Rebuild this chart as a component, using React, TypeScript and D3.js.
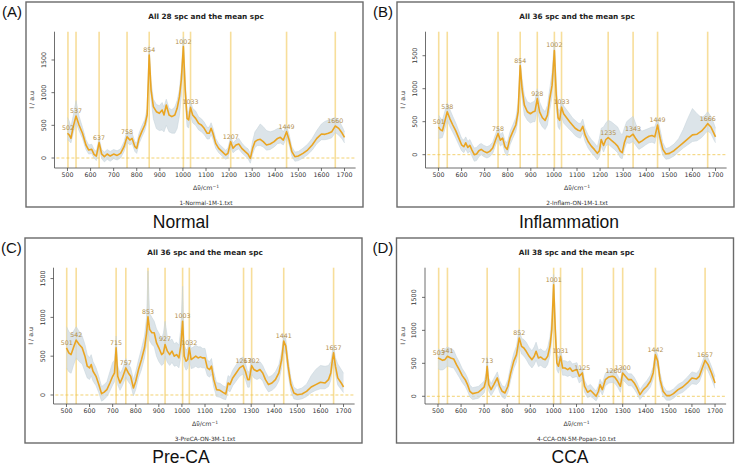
import * as d3 from "d3";

const W = 744;
const H = 466;

const X_DOMAIN = [452, 1748];
const X_TICKS = [500, 600, 700, 800, 900, 1000, 1100, 1200, 1300, 1400, 1500, 1600, 1700];
const Y_TICKS = [0, 500, 1000, 1500];

// (A) Normal, 28 spectra
const A_WN = [500, 508, 515, 525, 537, 550, 565, 580, 592, 605, 615, 625, 637, 648, 660, 672, 685, 700, 715, 730, 745, 758, 770, 780, 792, 800, 810, 822, 835, 845, 854, 862, 872, 885, 898, 910, 918, 928, 940, 952, 965, 975, 985, 993, 1002, 1010, 1018, 1025, 1033, 1042, 1055, 1068, 1080, 1092, 1105, 1114, 1122, 1130, 1142, 1155, 1170, 1185, 1195, 1207, 1217, 1230, 1242, 1255, 1270, 1282, 1292, 1302, 1312, 1322, 1335, 1348, 1362, 1378, 1395, 1410, 1422, 1435, 1449, 1460, 1472, 1485, 1500, 1520, 1540, 1560, 1580, 1600, 1615, 1630, 1645, 1660, 1675, 1690, 1700];
const A_MEAN = [378, 350, 300, 480, 643, 505, 378, 199, 122, 133, 56, 30, 235, 61, 20, 61, 30, 60, 40, 71, 173, 326, 275, 300, 173, 148, 300, 403, 505, 658, 1577, 1040, 785, 709, 684, 735, 658, 811, 658, 633, 658, 760, 939, 1194, 1704, 1041, 607, 582, 775, 658, 607, 530, 505, 454, 378, 378, 454, 378, 224, 148, 97, 46, 71, 250, 148, 199, 214, 148, 97, 61, -5, 148, 250, 275, 286, 250, 199, 214, 250, 300, 316, 275, 403, 275, 97, 20, 30, 71, 122, 199, 300, 367, 362, 378, 403, 490, 454, 378, 316];
const A_LO = [280, 260, 230, 380, 540, 420, 300, 130, 60, 70, 0, -40, 160, -10, -60, -20, -50, -10, -30, 0, 100, 240, 200, 220, 100, 70, 220, 320, 420, 560, 1420, 900, 600, 450, 420, 430, 400, 500, 400, 380, 380, 450, 650, 950, 1500, 850, 480, 460, 650, 540, 500, 430, 400, 360, 290, 290, 360, 290, 150, 80, 30, -20, 0, 170, 80, 120, 140, 80, 30, -10, -80, 60, 160, 190, 190, 170, 120, 130, 170, 220, 230, 200, 320, 200, 30, -50, -40, 0, 50, 120, 220, 280, 280, 290, 310, 390, 350, 290, 230];
const A_HI = [620, 560, 480, 650, 880, 640, 470, 280, 200, 210, 130, 100, 310, 130, 90, 130, 100, 130, 110, 140, 250, 420, 360, 380, 250, 230, 380, 490, 590, 760, 1720, 1180, 900, 820, 800, 850, 780, 900, 760, 740, 780, 880, 1050, 1350, 1850, 1200, 720, 700, 880, 760, 720, 630, 600, 550, 470, 470, 540, 460, 300, 220, 170, 120, 150, 330, 230, 280, 300, 230, 170, 140, 70, 260, 400, 450, 520, 480, 420, 400, 420, 450, 460, 400, 500, 360, 170, 90, 100, 150, 210, 300, 420, 520, 560, 580, 600, 620, 580, 480, 400];
const A_PEAKS = [502, 537, 637, 758, 854, 1002, 1033, 1207, 1449, 1660];

// (B) Inflammation, 36 spectra
const B_WN = [500, 508, 517, 527, 538, 550, 562, 575, 588, 600, 610, 618, 627, 636, 645, 655, 665, 675, 685, 697, 710, 722, 735, 748, 758, 768, 778, 788, 798, 810, 822, 835, 845, 854, 862, 872, 885, 898, 910, 918, 928, 938, 950, 962, 972, 982, 992, 1002, 1010, 1018, 1025, 1033, 1042, 1055, 1068, 1080, 1092, 1105, 1115, 1125, 1135, 1148, 1162, 1175, 1188, 1197, 1205, 1215, 1225, 1235, 1248, 1262, 1276, 1288, 1296, 1305, 1315, 1328, 1343, 1355, 1368, 1382, 1398, 1412, 1425, 1437, 1449, 1460, 1472, 1485, 1500, 1520, 1540, 1560, 1580, 1600, 1620, 1640, 1655, 1666, 1680, 1692, 1700];
const B_MEAN = [420, 380, 360, 500, 650, 540, 450, 360, 250, 150, 120, 180, 110, 140, 70, 0, 10, 60, 80, 50, 30, 50, 100, 230, 320, 220, 250, 120, 80, 250, 350, 450, 650, 1350, 1000, 750, 650, 620, 650, 660, 850, 650, 560, 520, 600, 850, 1050, 1580, 900, 560, 520, 720, 620, 560, 500, 450, 400, 370, 360, 430, 300, 200, 130, 80, 20, 60, 230, 140, 230, 260, 220, 180, 130, 50, 30, 180, 280, 270, 310, 240, 180, 210, 250, 280, 290, 270, 450, 250, 80, 10, 20, 60, 120, 180, 240, 300, 310, 360, 420, 470, 420, 330, 270];
const B_LO = [250, 250, 260, 380, 520, 420, 340, 250, 150, 60, 30, 90, 20, 50, -20, -100, -90, -30, 0, -30, -50, -30, 20, 150, 230, 130, 160, 30, -20, 150, 250, 350, 530, 1150, 850, 600, 520, 480, 500, 500, 700, 500, 420, 380, 450, 680, 880, 1400, 720, 420, 380, 580, 480, 430, 380, 340, 290, 260, 250, 330, 200, 100, 30, -20, -80, -30, 130, 40, 130, 160, 120, 80, 30, -50, -60, 80, 180, 170, 200, 140, 80, 110, 150, 180, 190, 170, 350, 150, -10, -70, -60, -20, 40, 100, 150, 200, 210, 260, 320, 360, 320, 230, 180];
const B_HI = [600, 560, 520, 650, 780, 680, 580, 480, 360, 250, 220, 270, 200, 230, 160, 100, 110, 150, 170, 140, 120, 140, 190, 320, 420, 310, 340, 210, 180, 350, 450, 560, 780, 1450, 1150, 900, 800, 780, 800, 820, 1000, 800, 700, 650, 750, 1000, 1250, 1720, 1100, 700, 660, 850, 740, 680, 620, 560, 520, 480, 470, 540, 400, 300, 230, 180, 120, 250, 400, 420, 480, 520, 500, 460, 420, 330, 300, 400, 500, 540, 580, 460, 380, 360, 380, 400, 420, 420, 560, 380, 180, 90, 110, 160, 240, 380, 550, 700, 620, 560, 600, 650, 580, 480, 400];
const B_PEAKS = [501, 538, 758, 854, 928, 1002, 1033, 1235, 1343, 1449, 1666];

// (C) Pre-CA, 36 spectra
const C_WN = [500, 510, 520, 530, 542, 555, 568, 580, 590, 600, 607, 615, 628, 640, 652, 662, 675, 688, 700, 708, 715, 722, 732, 742, 757, 768, 778, 790, 800, 812, 825, 838, 847, 853, 860, 870, 880, 890, 900, 912, 920, 927, 937, 947, 957, 967, 977, 987, 995, 1003, 1010, 1018, 1025, 1032, 1040, 1050, 1060, 1070, 1080, 1090, 1100, 1110, 1120, 1128, 1138, 1150, 1165, 1178, 1190, 1200, 1208, 1220, 1235, 1250, 1265, 1275, 1285, 1292, 1302, 1312, 1325, 1338, 1350, 1362, 1375, 1390, 1405, 1420, 1432, 1441, 1450, 1460, 1472, 1485, 1500, 1520, 1540, 1560, 1580, 1600, 1620, 1635, 1645, 1652, 1657, 1665, 1675, 1690, 1700];
const C_MEAN = [608, 543, 521, 608, 707, 651, 608, 500, 371, 349, 392, 306, 241, 134, 17, 34, 69, 155, 241, 284, 608, 241, 155, 220, 349, 284, 241, 90, 177, 328, 457, 608, 802, 1008, 845, 802, 802, 672, 608, 521, 543, 651, 565, 521, 565, 500, 521, 478, 629, 950, 500, 435, 457, 608, 457, 478, 500, 478, 491, 478, 478, 349, 328, 371, 198, 69, 60, 34, 13, 155, 134, 220, 284, 349, 379, 306, 198, 198, 379, 328, 306, 328, 284, 198, 134, 155, 198, 284, 457, 694, 629, 371, 134, 26, 4, 13, 47, 103, 134, 164, 155, 198, 284, 457, 543, 371, 220, 155, 103];
const C_LO = [350, 300, 280, 380, 480, 430, 400, 300, 220, 200, 250, 180, 120, 30, -80, -60, -20, 50, 130, 170, 450, 130, 60, 120, 230, 170, 130, -10, 70, 220, 330, 480, 650, 850, 700, 650, 620, 500, 430, 380, 400, 500, 420, 380, 420, 370, 380, 350, 480, 700, 380, 320, 340, 480, 340, 350, 370, 350, 360, 350, 350, 250, 230, 270, 100, -20, -30, -50, -60, 60, 40, 120, 180, 240, 270, 200, 100, 100, 270, 220, 200, 220, 180, 100, 40, 60, 100, 180, 350, 580, 520, 270, 50, -50, -60, -50, -20, 30, 60, 80, 80, 110, 190, 350, 430, 270, 130, 70, 30];
const C_HI = [880, 820, 780, 820, 880, 820, 760, 650, 520, 480, 520, 430, 350, 240, 110, 130, 170, 300, 420, 450, 760, 380, 280, 330, 470, 400, 350, 200, 300, 450, 600, 760, 1000, 1600, 1050, 1000, 950, 850, 800, 720, 800, 950, 750, 700, 720, 660, 680, 640, 850, 1400, 650, 580, 600, 720, 600, 620, 640, 620, 620, 600, 600, 450, 430, 470, 300, 160, 150, 120, 100, 250, 230, 320, 390, 460, 490, 410, 300, 300, 480, 430, 410, 430, 380, 300, 230, 250, 300, 390, 560, 780, 720, 470, 220, 100, 70, 90, 140, 250, 330, 380, 370, 380, 430, 560, 640, 480, 400, 330, 280];
const C_PEAKS = [501, 542, 715, 757, 853, 927, 1003, 1032, 1267, 1302, 1441, 1657];

// (D) CCA, 38 spectra
const D_WN = [500, 510, 520, 530, 541, 555, 568, 580, 592, 605, 618, 628, 638, 650, 662, 675, 688, 700, 708, 713, 720, 730, 742, 757, 767, 778, 790, 803, 815, 828, 840, 852, 862, 872, 882, 895, 907, 917, 925, 935, 945, 955, 965, 975, 985, 993, 1001, 1008, 1015, 1022, 1031, 1040, 1050, 1062, 1072, 1082, 1092, 1102, 1112, 1125, 1135, 1148, 1160, 1172, 1185, 1195, 1202, 1212, 1225, 1240, 1255, 1265, 1278, 1290, 1300, 1312, 1325, 1338, 1350, 1362, 1375, 1390, 1405, 1420, 1432, 1442, 1452, 1462, 1475, 1490, 1505, 1520, 1540, 1560, 1580, 1600, 1620, 1632, 1645, 1657, 1670, 1685, 1700];
const D_MEAN = [580, 566, 545, 556, 606, 580, 566, 480, 404, 313, 252, 177, 76, 40, 50, 61, 101, 141, 252, 455, 177, 101, 177, 278, 152, 76, 50, 152, 354, 530, 631, 884, 758, 732, 682, 606, 556, 606, 682, 580, 596, 566, 556, 606, 758, 1010, 1692, 1010, 505, 455, 606, 429, 429, 404, 429, 379, 394, 404, 303, 354, 152, 61, 91, 50, 0, 76, 177, 101, 252, 293, 303, 293, 227, 152, 354, 303, 252, 252, 202, 126, 25, 101, 152, 227, 354, 631, 530, 252, 76, 10, 10, 40, 101, 141, 202, 278, 263, 303, 429, 545, 480, 354, 202];
const D_LO = [420, 400, 400, 420, 460, 440, 430, 360, 290, 210, 150, 80, -10, -50, -40, -30, 10, 50, 150, 340, 80, 10, 80, 180, 60, -10, -40, 60, 250, 420, 520, 760, 640, 610, 560, 480, 430, 480, 550, 450, 470, 440, 430, 480, 620, 850, 1500, 850, 400, 350, 480, 320, 320, 300, 320, 280, 290, 300, 200, 250, 60, -20, 0, -30, -70, 0, 90, 20, 160, 200, 210, 200, 140, 60, 250, 210, 160, 160, 110, 40, -50, 20, 70, 140, 260, 520, 420, 160, 0, -60, -60, -30, 30, 60, 120, 190, 180, 220, 340, 450, 380, 260, 120];
const D_HI = [720, 700, 690, 710, 750, 720, 700, 600, 520, 420, 350, 280, 170, 130, 140, 150, 190, 230, 350, 600, 280, 190, 270, 370, 240, 160, 140, 250, 460, 650, 760, 1020, 880, 860, 820, 740, 690, 750, 820, 700, 720, 690, 680, 740, 900, 1200, 1850, 1200, 640, 580, 720, 540, 540, 520, 540, 490, 500, 510, 400, 450, 240, 150, 180, 130, 80, 160, 260, 190, 350, 390, 400, 390, 320, 240, 450, 400, 340, 340, 290, 210, 100, 180, 240, 320, 450, 720, 620, 350, 160, 80, 80, 110, 180, 220, 290, 370, 350, 400, 520, 640, 580, 450, 300];
const D_PEAKS = [503, 541, 713, 852, 1001, 1031, 1125, 1260, 1300, 1442, 1657];

const PANELS = [
  { tag: "(A)", title: "All 28 spc and the mean spc", file: "1-Normal-1M-1.txt", caption: "Normal", wn: A_WN, mean: A_MEAN, lo: A_LO, hi: A_HI, peaks: A_PEAKS, yDomain: [-153, 1933] },
  { tag: "(B)", title: "All 36 spc and the mean spc", file: "2-Inflam-ON-1M-1.txt", caption: "Inflammation", wn: B_WN, mean: B_MEAN, lo: B_LO, hi: B_HI, peaks: B_PEAKS, yDomain: [-202, 1864] },
  { tag: "(C)", title: "All 36 spc and the mean spc", file: "3-PreCA-ON-3M-1.txt", caption: "Pre-CA", wn: C_WN, mean: C_MEAN, lo: C_LO, hi: C_HI, peaks: C_PEAKS, yDomain: [-116, 1640] },
  { tag: "(D)", title: "All 38 spc and the mean spc", file: "4-CCA-ON-5M-Popan-10.txt", caption: "CCA", wn: D_WN, mean: D_MEAN, lo: D_LO, hi: D_HI, peaks: D_PEAKS, yDomain: [-117, 1950] },
];

const LAYOUT = [
  { bx: 26, by: 2, capX: 181, capY: 228 },
  { bx: 397, by: 2, capX: 569, capY: 228 },
  { bx: 25, by: 238, capX: 181, capY: 463 },
  { bx: 396.5, by: 238, capX: 570, capY: 463 },
];

const BOX_W = 337;
const BOX_H = 205;
const AXIS = "#4a4a4a";
const GOLD_LINE = "#f6d682";
const MEAN_COL = "#eaa522";
const LABEL_COL = "#b38f4c";

function Panel({ p, at }: { p: (typeof PANELS)[number]; at: (typeof LAYOUT)[number] }) {
  const { bx, by } = at;
  const top = by + 29.7;
  const bottom = by + 166;
  const x = d3.scaleLinear().domain(X_DOMAIN).range([bx + 30.4, bx + 329.6]);
  const y = d3.scaleLinear().domain(p.yDomain).range([bottom, top]);
  const idx = d3.range(p.wn.length);
  const band = d3.area<number>().x((i) => x(p.wn[i])).y0((i) => y(p.lo[i])).y1((i) => y(p.hi[i]))(idx);
  const loLine = d3.line<number>().x((i) => x(p.wn[i])).y((i) => y(p.lo[i]))(idx);
  const hiLine = d3.line<number>().x((i) => x(p.wn[i])).y((i) => y(p.hi[i]))(idx);
  const meanLine = d3.line<number>().x((i) => x(p.wn[i])).y((i) => y(p.mean[i]))(idx);
  const peakY = (pk: number) => y(p.mean[d3.minIndex(p.wn, (w) => Math.abs(w - pk))]);
  const yAxisX = bx + 28.5;
  const midX = x(1100);

  return (
    <g>
      <rect x={bx} y={by} width={BOX_W} height={BOX_H} fill="none" stroke="#6a6a6a" strokeWidth={1.4} />
      <text x={bx - 24} y={by + 14.5} fontFamily="'Liberation Sans', Arial, sans-serif" fontSize={15} fill="#111">{p.tag}</text>
      <text x={at.capX} y={at.capY} textAnchor="middle" fontFamily="'Liberation Sans', Arial, sans-serif" fontSize={17.5} fill="#111">{p.caption}</text>
      <text x={midX} y={by + 17.3} textAnchor="middle" fontSize={7.3} fontWeight="bold" fill="#222">{p.title}</text>

      {p.peaks.map((pk) => (
        <line key={"v" + pk} x1={x(pk)} x2={x(pk)} y1={top} y2={bottom} stroke={GOLD_LINE} strokeWidth={1.6} opacity={0.8} />
      ))}
      <line x1={x(X_DOMAIN[0])} x2={x(X_DOMAIN[1])} y1={y(0)} y2={y(0)} stroke="#f0c64e" strokeWidth={0.8} strokeDasharray="3,2" />

      <path d={band ?? ""} fill="#cfdae1" opacity={0.72} />
      <path d={loLine ?? ""} fill="none" stroke="#c3d0d8" strokeWidth={0.5} />
      <path d={hiLine ?? ""} fill="none" stroke="#c3d0d8" strokeWidth={0.5} />
      <path d={meanLine ?? ""} fill="none" stroke={MEAN_COL} strokeWidth={1.6} strokeLinejoin="round" />

      {p.peaks.map((pk) => (
        <text key={"t" + pk} x={x(pk)} y={peakY(pk) - 3} textAnchor="middle" fontSize={6.3} fill={LABEL_COL}>{pk}</text>
      ))}

      <line x1={yAxisX} x2={yAxisX} y1={top} y2={bottom} stroke={AXIS} strokeWidth={0.8} />
      <line x1={yAxisX} x2={x(X_DOMAIN[1])} y1={bottom} y2={bottom} stroke={AXIS} strokeWidth={0.8} />
      {Y_TICKS.map((t) => (
        <g key={"y" + t}>
          <line x1={yAxisX - 3} x2={yAxisX} y1={y(t)} y2={y(t)} stroke={AXIS} strokeWidth={0.8} />
          <text transform={`translate(${bx + 19.5},${y(t)}) rotate(-90)`} textAnchor="middle" fontSize={6.3} fill="#333">{t}</text>
        </g>
      ))}
      {X_TICKS.map((t) => (
        <g key={"x" + t}>
          <line x1={x(t)} x2={x(t)} y1={bottom} y2={bottom + 3} stroke={AXIS} strokeWidth={0.8} />
          <text x={x(t)} y={by + 174.5} textAnchor="middle" fontSize={6.3} fill="#333">{t}</text>
        </g>
      ))}
      <text transform={`translate(${bx + 8},${(top + bottom) / 2}) rotate(-90)`} textAnchor="middle" fontSize={6.3} fill="#333">I / a.u</text>
      <text x={midX} y={by + 188} textAnchor="middle" fontSize={6.3} fill="#333">
        Δν̃/cm<tspan dy={-2.5} fontSize={4.5}>−1</tspan>
      </text>
      <text x={midX} y={by + 202.5} textAnchor="middle" fontSize={5.8} fill="#333">{p.file}</text>
    </g>
  );
}

export default function App() {
  return (
    <svg width={W} height={H} style={{ position: "absolute", left: 0, top: 0, background: "#fff" }} fontFamily="'DejaVu Sans', sans-serif">
      {PANELS.map((p, i) => (
        <Panel key={p.tag} p={p} at={LAYOUT[i]} />
      ))}
    </svg>
  );
}
